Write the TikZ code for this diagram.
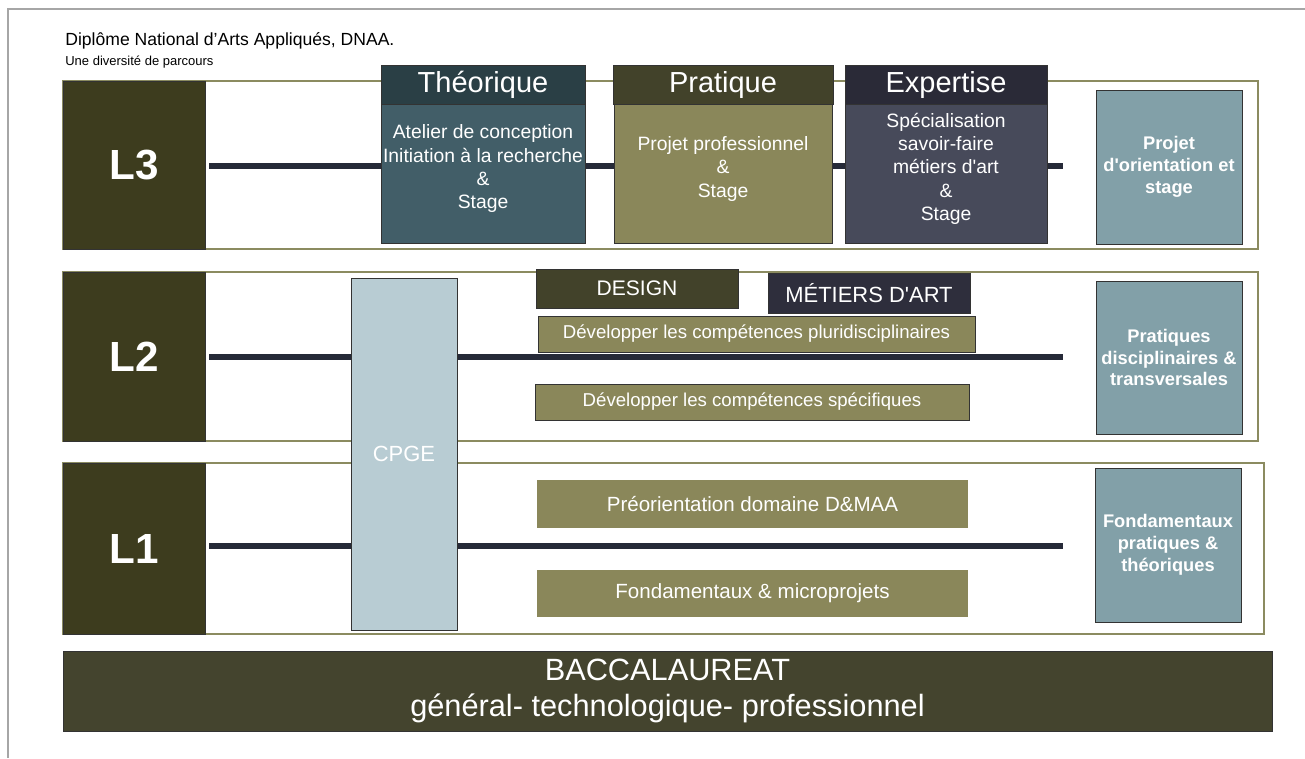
\documentclass[tikz,border=0pt]{standalone}
\usepackage{fontspec}
\setmainfont{Liberation Sans}[Ligatures=TeXOff]
\usetikzlibrary{positioning, calc}
\definecolor{levelolive}{HTML}{3D3C1E}
\definecolor{bandline}{HTML}{8B8B60}
\definecolor{trackblue}{HTML}{262A38}
\definecolor{theohead}{HTML}{2A3F45}
\definecolor{theobody}{HTML}{425E68}
\definecolor{prathead}{HTML}{42422A}
\definecolor{pratbody}{HTML}{8A875A}
\definecolor{exphead}{HTML}{2A2A37}
\definecolor{expbody}{HTML}{474A5A}
\definecolor{sideslate}{HTML}{82A0A8}
\definecolor{cpgeblue}{HTML}{B8CCD3}
\definecolor{metiersink}{HTML}{2E2E3C}
\definecolor{bacolive}{HTML}{44442E}
\tikzset{
  band/.style={draw=bandline, line width=1.2pt, fill=white, inner sep=0pt},
  levelbox/.style={draw=black!80, fill=levelolive, text=white, inner sep=0pt,
    font=\fontsize{24}{28}\selectfont\bfseries, minimum width=2.84cm},
  track/.style={trackblue, line width=3.4pt},
  headbox/.style={draw=black!80, text=white, inner sep=0pt, minimum height=0.78cm,
    font=\fontsize{16.5}{19}\selectfont},
  bodybox/.style={draw=black!80, text=white, inner sep=0pt, align=center, minimum height=2.78cm,
    font=\fontsize{11}{13.3}\selectfont},
  sidebox/.style={draw=black!80, fill=sideslate, text=white, inner sep=0pt, align=center,
    minimum width=2.92cm, font=\fontsize{10.4}{12.4}\selectfont\bfseries},
  tagbox/.style={draw=black!80, text=white, inner sep=0pt, align=center},
  olivebar/.style={tagbox, fill=pratbody, minimum width=8.62cm}
}
\begin{document}
\begin{tikzpicture}[x=0.02cm, y=-0.02cm]
  \useasboundingbox (0,0) rectangle (1305,758);
  % page frame
  \draw[gray!70, line width=0.6pt] (8,758) -- (8,9) -- (1305,9);

  % titles
  \node[anchor=west, inner sep=0pt, font=\fontsize{10}{12}\selectfont] (title) at (65,41) {Diplôme National d’Arts Appliqués, DNAA.};
  \node[anchor=west, inner sep=0pt, font=\fontsize{7.4}{9}\selectfont] (subtitle) at (65,62) {Une diversité de parcours};

  % year bands
  \node[band, minimum width=23.9cm, minimum height=3.36cm] (bandC) at (660.5,165) {};
  \node[band, minimum width=23.9cm, minimum height=3.38cm] (bandB) at (660.5,356.5) {};
  \node[band, minimum width=24.02cm, minimum height=3.42cm] (bandA) at (663.5,548.5) {};

  % level boxes
  \node[levelbox, minimum height=3.36cm] (L3) at (134,165) {L3};
  \node[levelbox, minimum height=3.38cm] (L2) at (134,356.5) {L2};
  \node[levelbox, minimum height=3.42cm] (L1) at (134,548.5) {L1};

  % tracks
  \coordinate (endC) at (1063,166);
  \coordinate (endB) at (1063,357);
  \coordinate (endA) at (1063,546);
  \draw[track] ([xshift=0.08cm]L3.east |- endC) -- (endC);
  \draw[track] ([xshift=0.08cm]L2.east |- endB) -- (endB);
  \draw[track] ([xshift=0.08cm]L1.east |- endA) -- (endA);

  % L3 pathways
  \node[bodybox, fill=theobody, minimum width=4.08cm] (theoB) at (483,173.5) {Atelier de conception\\Initiation à la recherche\\\&\\Stage\\[-0.2cm]};
  \node[headbox, fill=theohead, minimum width=4.08cm] (theoH) at (483,84.5) {Théorique};
  \node[bodybox, fill=pratbody, minimum width=4.36cm] (pratB) at (723,173.5) {Projet professionnel\\\&\\Stage\\[-0.2cm]};
  \node[headbox, fill=prathead, minimum width=4.4cm] (pratH) at (723,84.5) {Pratique};
  \node[bodybox, fill=expbody, minimum width=4.04cm] (expB) at (946,173.5) {Spécialisation\\savoir-faire\\métiers d'art\\\&\\Stage\\[-0.2cm]};
  \node[headbox, fill=exphead, minimum width=4.04cm] (expH) at (946,84.5) {Expertise};

  % L2 contents
  \node[tagbox, fill=cpgeblue, minimum width=2.12cm, minimum height=7.04cm, font=\fontsize{12.5}{15}\selectfont] (cpge) at (404,454) {CPGE};
  \node[tagbox, fill=prathead, minimum width=4.04cm, minimum height=0.78cm, font=\fontsize{12}{14}\selectfont] (design) at (637,288.5) {DESIGN};
  \node[tagbox, fill=metiersink, minimum width=4.04cm, minimum height=0.8cm, font=\fontsize{12.5}{15}\selectfont] (metiers) at (869,293) {MÉTIERS D'ART};
  \node[olivebar, minimum width=8.74cm, minimum height=0.72cm, font=\fontsize{10.6}{12}\selectfont] (pluri) at (756.5,334) {Développer les compétences pluridisciplinaires};
  \node[olivebar, minimum width=8.68cm, minimum height=0.72cm, font=\fontsize{10.6}{12}\selectfont] (specif) at (752,402) {Développer les compétences spécifiques};

  % L1 contents
  \node[olivebar, draw=none, minimum height=0.96cm, font=\fontsize{11.7}{14}\selectfont] (preor) at (752.5,504) {Préorientation domaine D\&MAA};
  \node[olivebar, draw=none, minimum height=0.94cm, font=\fontsize{11.7}{14}\selectfont] (fondm) at (752.5,593.5) {Fondamentaux \& microprojets};

  % side summaries
  \node[sidebox, minimum height=3.08cm] (sideC) at (1169,167) {Projet\\d'orientation et\\stage};
  \node[sidebox, minimum height=3.06cm] (sideB) at (1169,357.5) {Pratiques\\disciplinaires \&\\transversales};
  \node[sidebox, minimum height=3.08cm] (sideA) at (1168,545) {Fondamentaux\\pratiques \&\\théoriques};

  % baccalaureat
  \node[tagbox, fill=bacolive, minimum width=24.18cm, minimum height=1.6cm, font=\fontsize{17.5}{20.5}\selectfont] (bac) at (667.5,691) {BACCALAUREAT\\général- technologique- professionnel};
\end{tikzpicture}
\end{document}
